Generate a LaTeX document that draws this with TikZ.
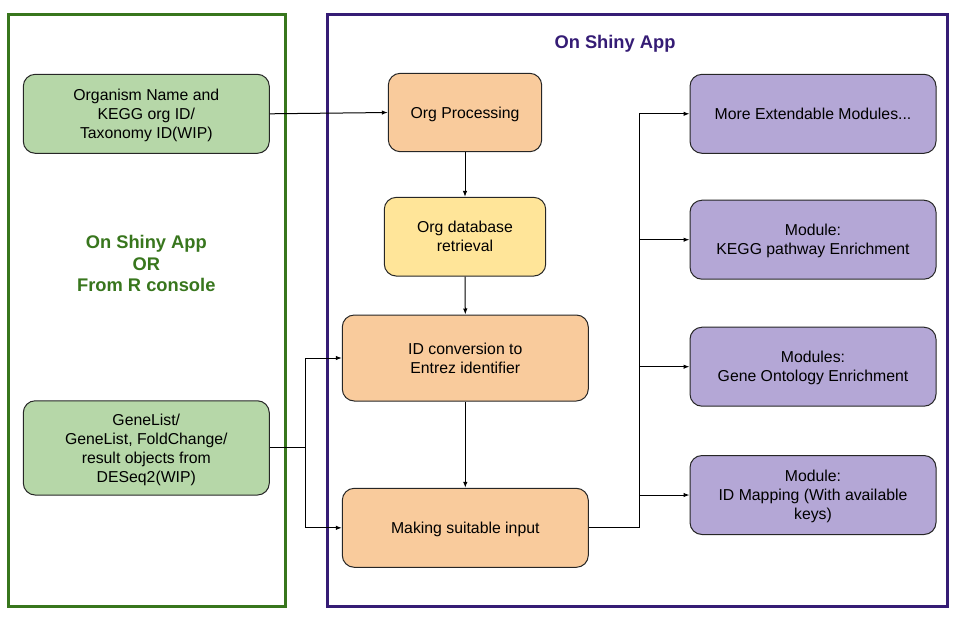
\documentclass[tikz,border=0pt]{standalone}
\usepackage{fontspec}
\setmainfont{Liberation Sans}
\usetikzlibrary{arrows.meta}
\definecolor{panelgreen}{HTML}{38761D}
\definecolor{panelpurple}{HTML}{351C75}
\definecolor{inputfill}{HTML}{B6D7A8}
\definecolor{stepfill}{HTML}{F9CB9C}
\definecolor{dbfill}{HTML}{FFE599}
\definecolor{modfill}{HTML}{B4A7D6}
\begin{document}
\begin{tikzpicture}[x=1pt,y=-1pt,
  box/.style={draw=black!85,line width=1,rounded corners=12,align=center,
    font=\fontsize{15.8}{19}\selectfont,inner sep=0,text depth=-3pt},
  inbox/.style={box,fill=inputfill,minimum width=246,minimum height=79},
  stepbox/.style={box,fill=stepfill,minimum width=246,minimum height=79},
  modbox/.style={box,fill=modfill,minimum width=246,minimum height=79},
  flow/.style={line width=1,-{Latex[length=6,width=4.5]}},
  link/.style={line width=1}]
\useasboundingbox (0,0) rectangle (959,622);

% panels
\draw[panelgreen,line width=3] (8,14) rectangle (285,606.5);
\draw[panelpurple,line width=3] (327,14) rectangle (947.5,606.5);
\node[panelgreen,align=center,font=\fontsize{18.3}{21.8}\selectfont\bfseries] (lefttitle) at (146.3,263.5) {On Shiny App\\OR\\From R console};
\node[panelpurple,font=\fontsize{18.3}{21.8}\selectfont\bfseries] (righttitle) at (615,43.3) {On Shiny App};

% inputs
\node[inbox] (org) at (146.3,113.8) {Organism Name and\\KEGG org ID/\\Taxonomy ID(WIP)};
\node[inbox,minimum height=94.3] (gene) at (146.3,447.9) {GeneList/\\GeneList, FoldChange/\\result objects from\\DESeq2(WIP)};

% processing steps
\node[stepbox,minimum width=153.4,minimum height=78.4] (proc) at (465,112.5) {Org Processing};
\node[box,fill=dbfill,minimum width=161.4,minimum height=78.7] (orgdb) at (465,236.7) {Org database\\retrieval};
\node[stepbox,minimum height=86] (idconv) at (465.3,358) {ID conversion to\\Entrez identifier};
\node[stepbox] (input) at (465.3,527.8) {Making suitable input};

% modules
\node[modbox] (more) at (813,113.8) {More Extendable Modules...};
\node[modbox] (kegg) at (813,239.7) {Module:\\KEGG pathway Enrichment};
\node[modbox] (go) at (813,366.7) {Modules:\\Gene Ontology Enrichment};
\node[modbox] (idmap) at (813,495) {Module:\\ID Mapping (With available\\keys)};

\coordinate (join) at ([xshift=36]gene.east);
\coordinate (split) at ([xshift=51]input.east);

\draw[flow] (org.east) -- (proc.west);
\draw[flow] (proc.south) -- (orgdb.north);
\draw[flow] (orgdb.south) -- (idconv.north);
\draw[flow] (idconv.south) -- (input.north);
\draw[link] (gene.east) -- (join);
\draw[flow] (join) |- (idconv.west);
\draw[flow] (join) |- (input.west);
\draw[link] (input.east) -- (split);
\draw[flow] (split) |- (more.west);
\draw[flow] (split) |- (kegg.west);
\draw[flow] (split) |- (go.west);
\draw[flow] (split) |- (idmap.west);
\end{tikzpicture}
\end{document}
